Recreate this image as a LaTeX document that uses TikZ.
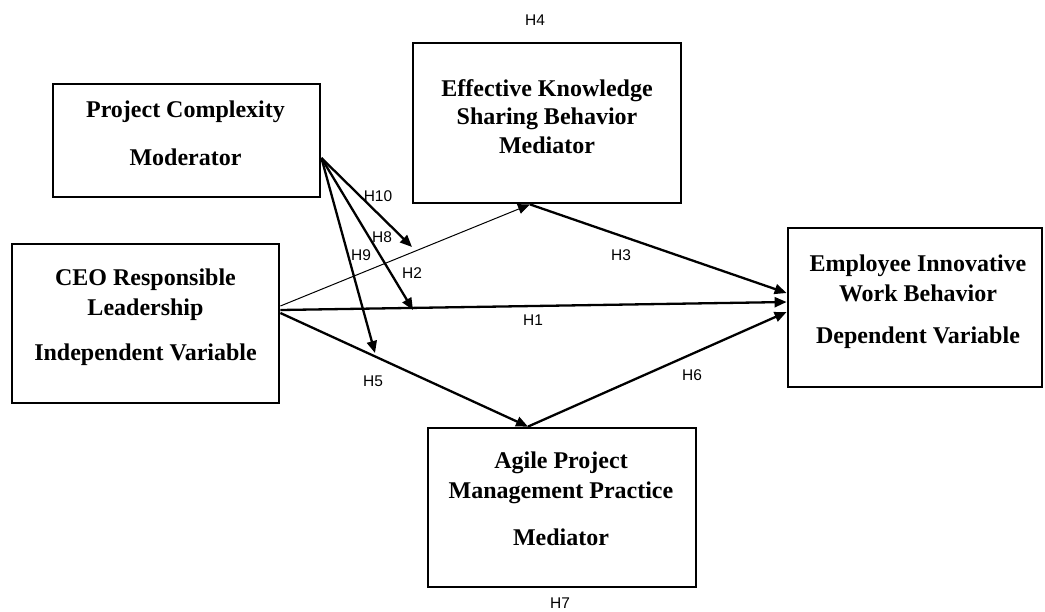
\documentclass[tikz,border=0pt]{standalone}
\usepackage{fontspec}
\setmainfont{Liberation Serif}
\newfontfamily\hfont{Liberation Sans}
\usetikzlibrary{arrows.meta}

\tikzset{
  box/.style={draw, line width=2.8pt, inner sep=0pt},
  title/.style={font=\fontsize{24}{30}\selectfont\bfseries, align=center, inner sep=0pt},
  hyp/.style={font=\hfont\fontsize{15.5}{18}\selectfont, inner sep=0pt},
  path/.style={line width=2.3pt, -{Triangle[length=12pt,width=10pt]}},
  thinpath/.style={line width=1pt, -{Triangle[length=12pt,width=10pt]}},
}

\begin{document}
\begin{tikzpicture}[x=1pt, y=-1pt]
\useasboundingbox (0,0) rectangle (1045,611);

% construct boxes
\node[box, minimum width=267pt, minimum height=113pt] (pc)   at (186.5,140.5) {};
\node[box, minimum width=268pt, minimum height=160pt] (eksb) at (547,123) {};
\node[box, minimum width=267pt, minimum height=159pt] (ceo)  at (145.5,323.5) {};
\node[box, minimum width=254pt, minimum height=159pt] (emp)  at (915,307.5) {};
\node[box, minimum width=268pt, minimum height=159pt] (apm)  at (562,507.5) {};

% box titles
\node[title] (pc1) at (185.5,112) {Project Complexity};
\node[title] (pc2) at (185.5,157) {Moderator};
\node[title, font=\fontsize{24}{28.5}\selectfont\bfseries] (eksb1) at (547,116.5) {Effective Knowledge\\Sharing Behavior\\Mediator};
\node[title] (ceo1) at (145.5,295) {CEO Responsible\\Leadership};
\node[title] (ceo2) at (145.5,355) {Independent Variable};
\node[title] (emp1) at (918,278) {Employee Innovative\\Work Behavior};
\node[title] (emp2) at (918,338) {Dependent Variable};
\node[title] (apm1) at (561,478) {Agile Project\\Management Practice};
\node[title] (apm2) at (561,537) {Mediator};

% connector end points on the box edges
\coordinate (pcTip)  at ([yshift=-17.5pt]pc.east);
\coordinate (ceoA)   at ([yshift=17.5pt]ceo.east);
\coordinate (ceoB)   at ([yshift=13.5pt]ceo.east);
\coordinate (ceoC)   at ([yshift=10.5pt]ceo.east);
\coordinate (eksbIn) at ([xshift=-17pt]eksb.south);
\coordinate (apmIn)  at ([xshift=-34pt]apm.north);
\coordinate (empA)   at ([yshift=14.5pt]emp.west);
\coordinate (empB)   at ([yshift=5.5pt]emp.west);
\coordinate (empC)   at ([yshift=-4.5pt]emp.west);

% moderating effects end on the paths
\coordinate (m10) at (412,247);
\coordinate (m2)  at (413,310);
\coordinate (m9)  at (375,353);

% paths
\draw[thinpath] (ceoA) -- (eksbIn);
\draw[path] (eksbIn) -- (empA);
\draw[path] (ceoB) -- (empB);
\draw[path] (ceoC) -- (apmIn);
\draw[path] (apmIn) -- (empC);
\draw[path] (pcTip) -- (m10);
\draw[path] (pcTip) -- (m2);
\draw[path] (pcTip) -- (m9);

% hypothesis labels
\node[hyp] (h4)  at (535,20)  {H4};
\node[hyp] (h10) at (378,196) {H10};
\node[hyp] (h8)  at (382,237) {H8};
\node[hyp] (h9)  at (361,255) {H9};
\node[hyp] (h2)  at (412,273) {H2};
\node[hyp] (h3)  at (621,255) {H3};
\node[hyp] (h1)  at (533,320) {H1};
\node[hyp] (h5)  at (373,381) {H5};
\node[hyp] (h6)  at (692,375) {H6};
\node[hyp] (h7)  at (560,603) {H7};
\end{tikzpicture}
\end{document}
